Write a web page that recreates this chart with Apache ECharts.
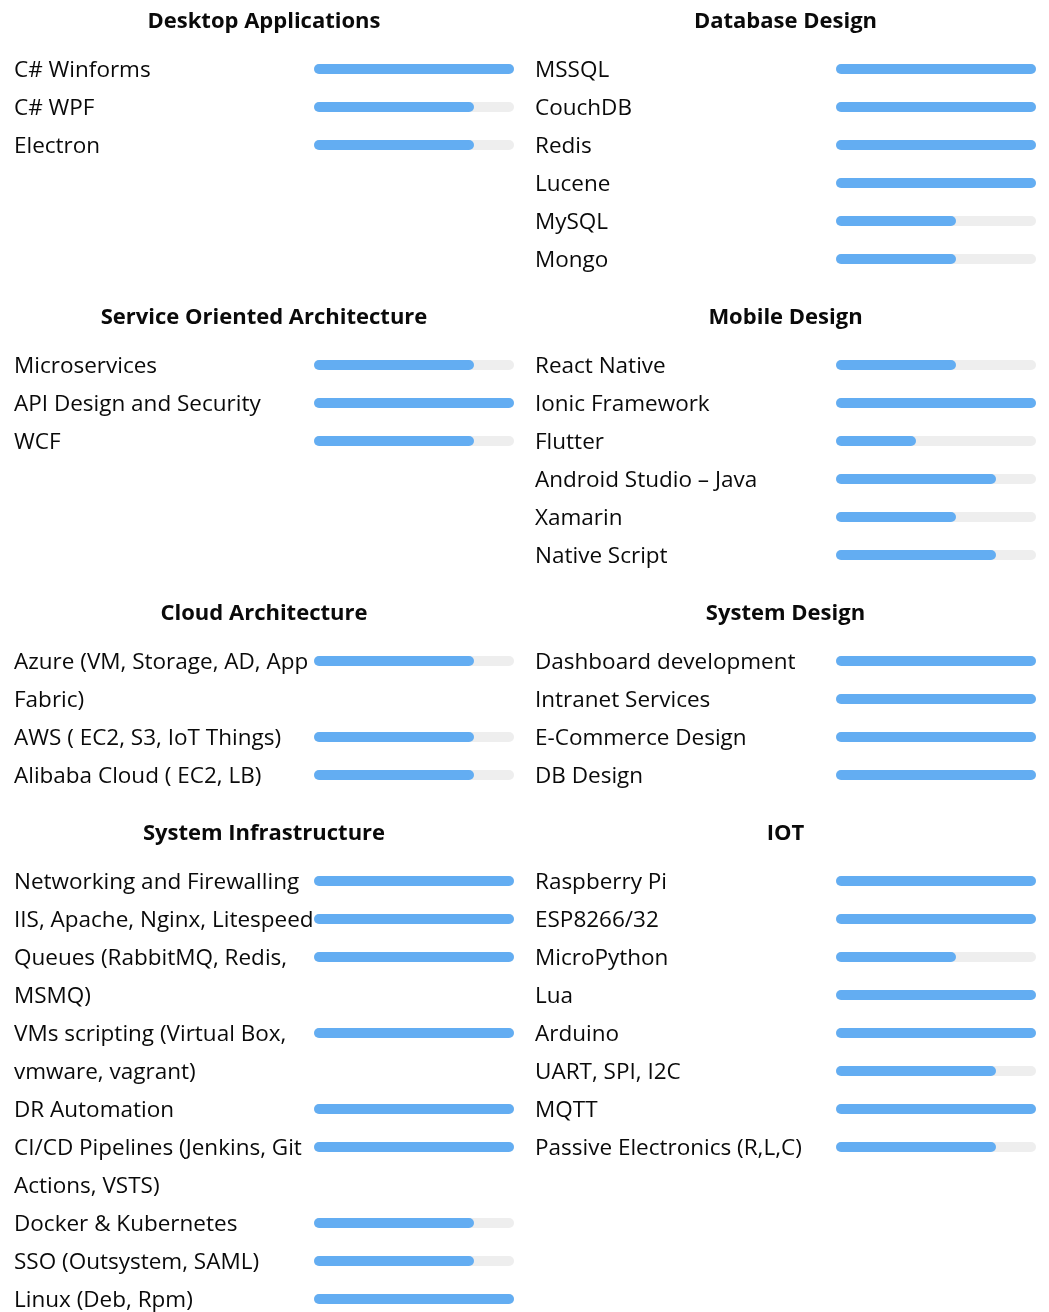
<!DOCTYPE html>
<html>
<head>
<meta charset="utf-8">
<script src="https://cdn.jsdelivr.net/npm/echarts@6/dist/echarts.min.js"></script>
<style>
html,body{margin:0;padding:0;background:#fff;overflow:hidden;}
#chart{width:1049px;height:1340px;}
</style>
</head>
<body>
<div id="chart"></div>
<script>
// ---- data ----
const sectionTitles = ['Desktop Applications', 'Database Design', 'Service Oriented Architecture', 'Mobile Design',
  'Cloud Architecture', 'System Design', 'System Infrastructure', 'IOT'];

const desktopNames = ['C# Winforms', 'C# WPF', 'Electron'];
const desktopValues = [100, 80, 80];

const databaseNames = ['MSSQL', 'CouchDB', 'Redis', 'Lucene', 'MySQL', 'Mongo'];
const databaseValues = [100, 100, 100, 100, 60, 60];

const soaNames = ['Microservices', 'API Design and Security', 'WCF'];
const soaValues = [80, 100, 80];

const mobileNames = ['React Native', 'Ionic Framework', 'Flutter', 'Android Studio – Java', 'Xamarin', 'Native Script'];
const mobileValues = [60, 100, 40, 80, 60, 80];

const cloudNames = ['Azure (VM, Storage, AD, App\nFabric)', 'AWS ( EC2, S3, IoT Things)', 'Alibaba Cloud ( EC2, LB)'];
const cloudValues = [80, 80, 80];

const sysDesignNames = ['Dashboard development', 'Intranet Services', 'E-Commerce Design', 'DB Design'];
const sysDesignValues = [100, 100, 100, 100];

const infraNames = ['Networking and Firewalling', 'IIS, Apache, Nginx, Litespeed', 'Queues (RabbitMQ, Redis,\nMSMQ)',
  'VMs scripting (Virtual Box,\nvmware, vagrant)', 'DR Automation', 'CI/CD Pipelines (Jenkins, Git\nActions, VSTS)',
  'Docker & Kubernetes', 'SSO (Outsystem, SAML)', 'Linux (Deb, Rpm)'];
const infraValues = [100, 100, 100, 100, 100, 100, 80, 80, 100];

const iotNames = ['Raspberry Pi', 'ESP8266/32', 'MicroPython', 'Lua', 'Arduino', 'UART, SPI, I2C', 'MQTT', 'Passive Electronics (R,L,C)'];
const iotValues = [100, 100, 60, 100, 100, 80, 100, 80];

const maxValue = 100;

// ---- layout ----
const sections = [
  [desktopNames, desktopValues], [databaseNames, databaseValues],
  [soaNames, soaValues], [mobileNames, mobileValues],
  [cloudNames, cloudValues], [sysDesignNames, sysDesignValues],
  [infraNames, infraValues], [iotNames, iotValues]
];

const FONT = "'Open Sans'";
const ROW = 38;
const colLabelX = [14, 535];
const colBarX = [314, 836];
const barW = 200;

function expand(names, values) {
  const cats = [], vals = [], track = [];
  names.forEach((n, i) => {
    n.split('\n').forEach((line, j) => {
      cats.push(line);
      vals.push(j === 0 ? values[i] : null);
      track.push(j === 0 ? maxValue : null);
    });
  });
  return {cats, vals, track};
}

const grids = [], xAxes = [], yAxes = [], series = [], titles = [];
let titleY = 20;
for (let r = 0; r < 4; r++) {
  let maxSlots = 0;
  const gridTop = titleY + 30;
  for (let c = 0; c < 2; c++) {
    const idx = r * 2 + c;
    const e = expand(sections[idx][0], sections[idx][1]);
    maxSlots = Math.max(maxSlots, e.cats.length);
    const g = grids.length;
    grids.push({left: colBarX[c], width: barW, top: gridTop, height: e.cats.length * ROW});
    xAxes.push({type: 'value', gridIndex: g, min: 0, max: maxValue, show: false});
    yAxes.push({
      type: 'category', gridIndex: g, inverse: true, data: e.cats,
      axisLine: {show: false}, axisTick: {show: false}, splitLine: {show: false},
      axisLabel: {interval: 0, align: 'left', margin: colBarX[c] - colLabelX[c],
        verticalAlign: 'top', lineHeight: 4,
        fontFamily: FONT, fontSize: 22.5, color: '#0a0a0a'}
    });
    series.push({
      type: 'bar', xAxisIndex: g, yAxisIndex: g, data: e.track, barWidth: 10, silent: true,
      itemStyle: {color: '#eeeeee', borderRadius: 5}, z: 1
    });
    series.push({
      type: 'bar', xAxisIndex: g, yAxisIndex: g, data: e.vals, barWidth: 10, barGap: '-100%', silent: true,
      itemStyle: {color: '#63adf2', borderRadius: 5}, z: 2
    });
    titles.push({
      text: sectionTitles[idx], left: (colLabelX[c] + colBarX[c] + barW) / 2, top: titleY - 13,
      textAlign: 'center', padding: 0,
      textStyle: {fontFamily: FONT, fontSize: 22, fontWeight: 'bold', color: '#0a0a0a', lineHeight: 30}
    });
  }
  titleY = gridTop + maxSlots * ROW + ROW;
}

const chart = echarts.init(document.getElementById('chart'), null, {renderer: 'canvas'});
chart.setOption({
  animation: false,
  backgroundColor: '#fff',
  title: titles,
  grid: grids,
  xAxis: xAxes,
  yAxis: yAxes,
  series: series
});
</script>
</body>
</html>
